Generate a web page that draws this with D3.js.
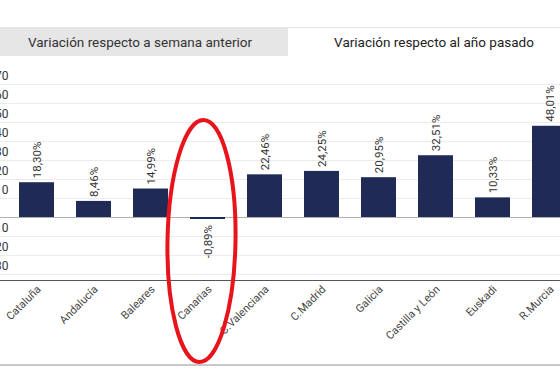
<html>
<head>
    <meta charset="utf-8">
    <style>
        body {
            margin: 0;
            font-family: Roboto, "Open Sans", Arial, sans-serif;
            background: white;
        }
        svg {
            display: block;
        }
    </style>
    <script src="https://cdn.jsdelivr.net/npm/d3@7"></script>
</head>
<body>
    <svg id="chart"></svg>
</body>
<script>
    // chart data
    let regions = ["Cataluña", "Andalucía", "Baleares", "Canarias", "C.Valenciana",
        "C.Madrid", "Galicia", "Castilla y León", "Euskadi", "R.Murcia"]
    let variation = [18.30, 8.46, 14.99, -0.89, 22.46, 24.25, 20.95, 32.51, 10.33, 48.01]
    let gridTicks = [-30, -20, -10, 0, 10, 20, 30, 40, 50, 60, 70]
    let labelTicks = [-30, -20, -10, 10, 20, 30, 40, 50, 60, 70]
    let tabs = ["Variación respecto a semana anterior", "Variación respecto al año pasado"]
    let highlighted = "Canarias"

    let width = 560
    let height = 385
    let svg = d3.select("#chart").attr("width", width).attr("height", height)

    let data = regions.map((r, i) => ({ region: r, value: variation[i] }))

    // tabs at the top
    svg.append("line")
        .attr("x1", 0).attr("x2", width)
        .attr("y1", 27.5).attr("y2", 27.5)
        .attr("stroke", "#e4e4e4")
    svg.append("rect")
        .attr("x", 0).attr("y", 28)
        .attr("width", 288).attr("height", 28)
        .attr("fill", "#e6e6e6")
    svg.append("text")
        .attr("x", 140).attr("y", 47)
        .attr("text-anchor", "middle")
        .attr("font-size", 13.5)
        .attr("fill", "#333")
        .text(tabs[0])
    svg.append("text")
        .attr("x", 434).attr("y", 47)
        .attr("text-anchor", "middle")
        .attr("font-size", 13.5)
        .attr("fill", "#222")
        .text(tabs[1])

    // scales
    let xScale = d3.scaleBand()
        .domain(regions)
        .range([8, 578])
        .paddingInner(0.386)
        .paddingOuter(0.193)

    let yScale = d3.scaleLinear()
        .domain([-33.16, 80])
        .range([280, 65])

    // gridlines
    svg.append("g")
        .selectAll("line")
        .data(gridTicks)
        .enter().append("line")
        .attr("x1", 0).attr("x2", width)
        .attr("y1", d => Math.round(yScale(d)) + 0.5)
        .attr("y2", d => Math.round(yScale(d)) + 0.5)
        .attr("stroke", d => d === 0 ? "#b0b0b0" : "#ececec")

    // y axis labels (no axis line, cut off at left edge)
    let axisY = d3.axisLeft(yScale)
        .tickValues(labelTicks)
        .tickFormat(d => String(d))
        .tickSize(0)
        .tickPadding(0)
    let gy = svg.append("g")
        .attr("transform", "translate(8.5,-8)")
        .call(axisY)
    gy.select(".domain").remove()
    gy.selectAll("text")
        .attr("font-family", "Roboto, sans-serif")
        .attr("font-size", 12)
        .attr("fill", "#333")

    // bars
    svg.append("g")
        .selectAll("rect")
        .data(data)
        .enter().append("rect")
        .attr("x", d => xScale(d.region))
        .attr("width", xScale.bandwidth())
        .attr("y", d => yScale(Math.max(0, d.value)))
        .attr("height", d => Math.max(2, Math.abs(yScale(d.value) - yScale(0))))
        .attr("fill", "#1f2a56")

    // value labels
    let fmt = v => (v < 0 ? "-" : "") + d3.format(".2f")(Math.abs(v)).replace(".", ",") + "%"
    svg.append("g")
        .selectAll("text")
        .data(data)
        .enter().append("text")
        .attr("transform", d => {
            let cx = xScale(d.region) + xScale.bandwidth() / 2 + 4
            let cy = d.value >= 0 ? yScale(d.value) - 4 : yScale(0) + 8
            return `translate(${cx},${cy}) rotate(-90)`
        })
        .attr("text-anchor", d => d.value >= 0 ? "start" : "end")
        .attr("font-size", 11.5)
        .attr("fill", "#333")
        .text(d => fmt(d.value))

    // x axis
    svg.append("line")
        .attr("x1", 0).attr("x2", width)
        .attr("y1", 280.5).attr("y2", 280.5)
        .attr("stroke", "#555")
    svg.append("g")
        .selectAll("text")
        .data(regions)
        .enter().append("text")
        .attr("transform", d => {
            let cx = xScale(d) + xScale.bandwidth() / 2 + 5
            return `translate(${cx},290) rotate(-45)`
        })
        .attr("text-anchor", "end")
        .attr("font-size", 11)
        .attr("fill", "#444")
        .text(d => d)

    // bottom separator
    svg.append("line")
        .attr("x1", 0).attr("x2", width)
        .attr("y1", 365).attr("y2", 365)
        .attr("stroke", "#c8c8c8")
        .attr("stroke-width", 2)

    // red annotation around the highlighted region
    let hx = xScale(highlighted) + xScale.bandwidth() / 2 - 6
    svg.append("ellipse")
        .attr("cx", hx)
        .attr("cy", 241)
        .attr("rx", 34)
        .attr("ry", 121)
        .attr("transform", `rotate(1,${hx},241)`)
        .attr("fill", "none")
        .attr("stroke", "#e8141c")
        .attr("stroke-width", 4)
</script>
</html>
